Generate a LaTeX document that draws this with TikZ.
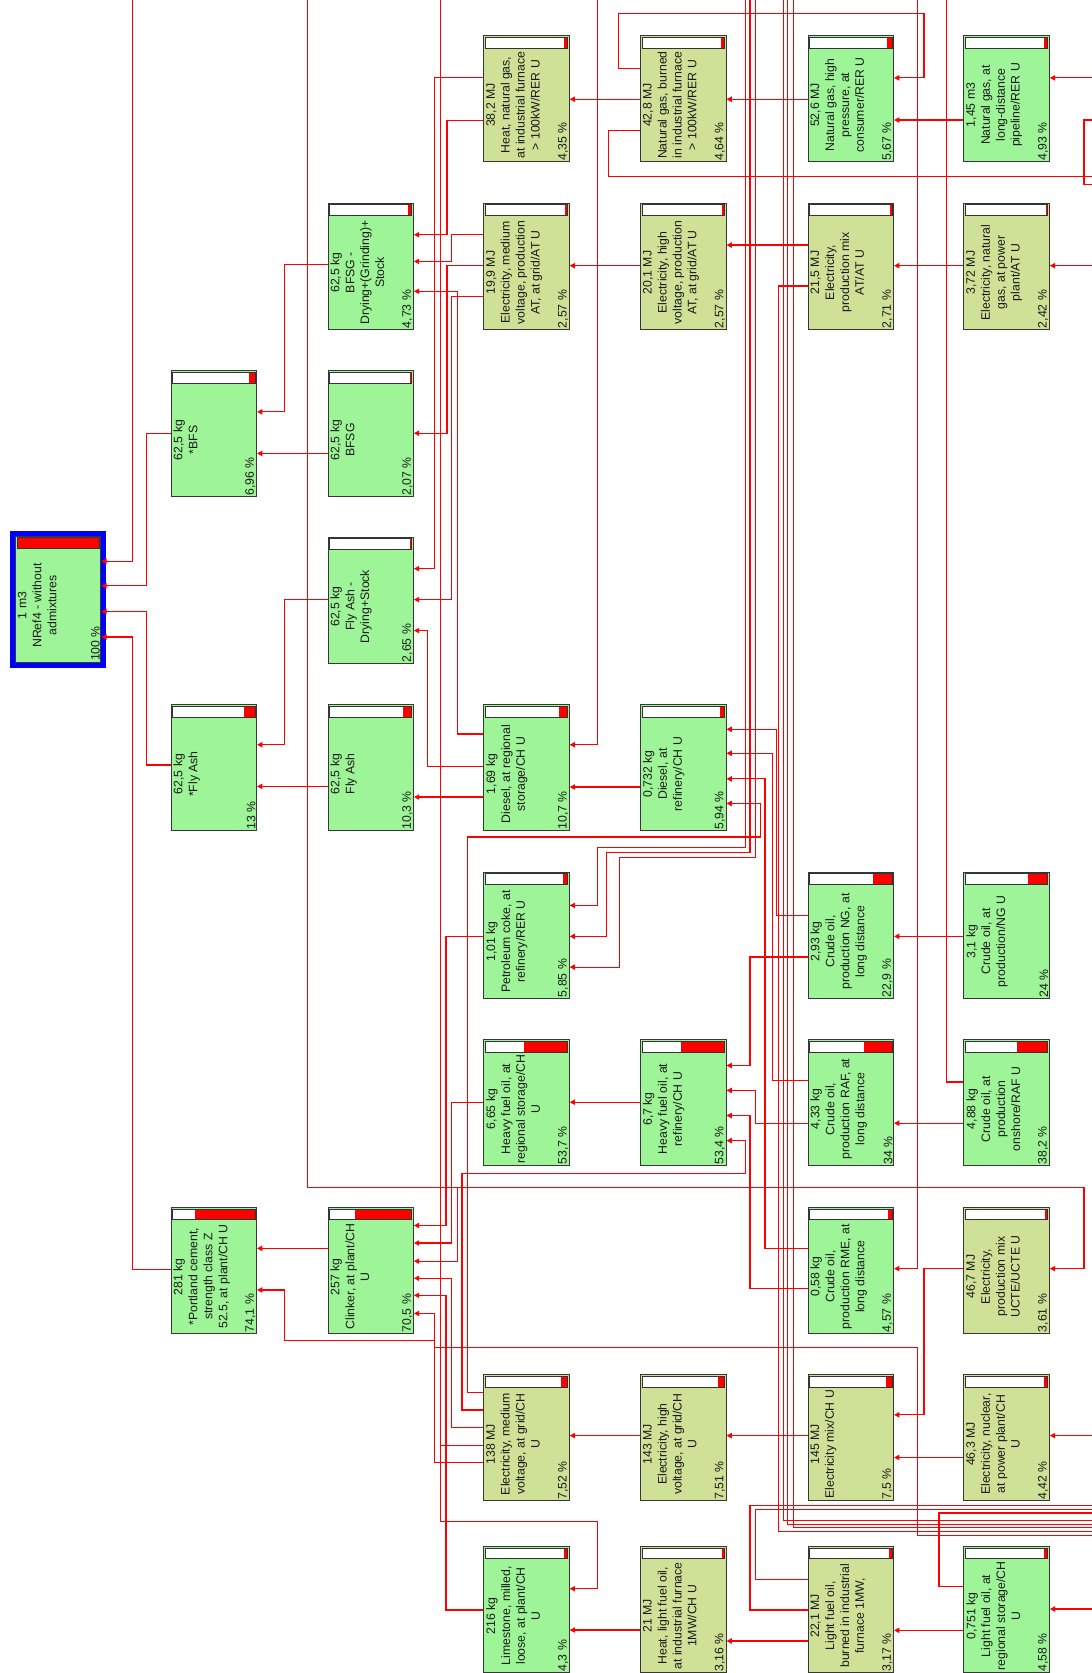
\documentclass[tikz,border=0pt]{standalone}
\usepackage{fontspec}
\setmainfont{Liberation Sans}
\usetikzlibrary{arrows.meta, calc}

\definecolor{matgreen}{RGB}{158,245,152}
\definecolor{nrgolive}{RGB}{207,225,150}
\definecolor{flowred}{RGB}{255,0,0}
\definecolor{boxline}{RGB}{55,55,55}
\definecolor{rootblue}{RGB}{0,0,255}

\newcommand{\boxfont}{\fontsize{11.5}{14}\selectfont}
% process box: name, x, y (from top), style, share, label, share text
\newcommand{\pbox}[7]{%
  \node[#4] (#1) at (#2,-#3) {};
  \fill[white] ($(#1.north west)+(2,-2)$) rectangle ($(#1.north east)+(-2,-12)$);
  \fill[flowred] ($(#1.north east)+(-2,-2)$) rectangle ++({-max(1.5,0.76*#5)},-10);
  \draw[bar] ($(#1.north west)+(2,-2)$) rectangle ($(#1.north east)+(-2,-12)$);
  \node[boxtext] at ($(#1.west)+(1.5,-6)$) {#6};
  \node[pcttext] at (#1.south east) {#7};
}

\begin{document}
\begin{tikzpicture}[x=1pt, y=1pt,
    procbox/.style={draw=boxline, line width=0.9pt, anchor=north west,
      inner sep=0pt, minimum width=80pt, minimum height=118pt},
    matbox/.style={procbox, fill=matgreen},
    nrgbox/.style={procbox, fill=nrgolive},
    boxtext/.style={rotate=90, anchor=north, align=center, font=\boxfont,
      inner sep=1pt, text=black!90},
    pcttext/.style={rotate=90, anchor=south west, font=\boxfont,
      inner sep=1.2pt, text=black!90},
    bar/.style={draw=black!80, line width=0.7pt},
    rootframe/.style={draw=rootblue, line width=4.7pt},
    flow/.style={draw=flowred, line width=1.1pt, -{Triangle[length=5pt, width=5pt]}},
    link/.style={draw=flowred, line width=1.1pt},
]
\fill[white] (0,0) rectangle (1023,-1568);
\useasboundingbox (0,0) rectangle (1023,-1568);

% boxes, column by column
\pbox{nref}{14}{502}{matbox}{100}{1 m3\\NRef4 - without\\admixtures}{100 \%}
\draw[rootframe] ($(nref.north west)+(-2.4,2.4)$) rectangle ($(nref.south east)+(2.4,-2.4)$);

\pbox{sbfs}{160}{347}{matbox}{6.96}{62,5 kg\\*BFS}{6,96 \%}
\pbox{sflyash}{160}{660}{matbox}{13}{62,5 kg\\*Fly Ash}{13 \%}
\pbox{sportland}{160}{1131}{matbox}{74.1}{281 kg\\*Portland cement,\\strength class Z\\52.5, at plant/CH U}{74,1 \%}

\pbox{bfsgdry}{307}{190}{matbox}{4.73}{62,5 kg\\BFSG -\\Drying+(Grinding)+\\Stock}{4,73 \%}
\pbox{bfsg}{307}{347}{matbox}{2.07}{62,5 kg\\BFSG}{2,07 \%}
\pbox{flydry}{307}{503}{matbox}{2.65}{62,5 kg\\Fly Ash -\\Drying+Stock}{2,65 \%}
\pbox{flyash}{307}{660}{matbox}{10.3}{62,5 kg\\Fly Ash}{10,3 \%}
\pbox{clinker}{307}{1131}{matbox}{70.5}{257 kg\\Clinker, at plant/CH\\U}{70,5 \%}

\pbox{heatng}{453}{33}{nrgbox}{4.35}{38,2 MJ\\Heat, natural gas,\\at industrial furnace\\> 100kW/RER U}{4,35 \%}
\pbox{elmvat}{453}{190}{nrgbox}{2.57}{19,9 MJ\\Electricity, medium\\voltage, production\\AT, at grid/AT U}{2,57 \%}
\pbox{dieselreg}{453}{660}{matbox}{10.7}{1,69 kg\\Diesel, at regional\\storage/CH U}{10,7 \%}
\pbox{petcoke}{453}{817}{matbox}{5.85}{1,01 kg\\Petroleum coke, at\\refinery/RER U}{5,85 \%}
\pbox{hforeg}{453}{974}{matbox}{53.7}{6,65 kg\\Heavy fuel oil, at\\regional storage/CH\\U}{53,7 \%}
\pbox{elmvch}{453}{1288}{nrgbox}{7.52}{138 MJ\\Electricity, medium\\voltage, at grid/CH\\U}{7,52 \%}
\pbox{limestone}{453}{1449}{matbox}{4.3}{216 kg\\Limestone, milled,\\loose, at plant/CH\\U}{4,3 \%}

\pbox{ngburn}{600}{33}{nrgbox}{4.64}{42,8 MJ\\Natural gas, burned\\in industrial furnace\\> 100kW/RER U}{4,64 \%}
\pbox{elhvat}{600}{190}{nrgbox}{2.57}{20,1 MJ\\Electricity, high\\voltage, production\\AT, at grid/AT U}{2,57 \%}
\pbox{dieselref}{600}{660}{matbox}{5.94}{0,732 kg\\Diesel, at\\refinery/CH U}{5,94 \%}
\pbox{hforef}{600}{974}{matbox}{53.4}{6,7 kg\\Heavy fuel oil, at\\refinery/CH U}{53,4 \%}
\pbox{elhvch}{600}{1288}{nrgbox}{7.51}{143 MJ\\Electricity, high\\voltage, at grid/CH\\U}{7,51 \%}
\pbox{heatlfo}{600}{1449}{nrgbox}{3.16}{21 MJ\\Heat, light fuel oil,\\at industrial furnace\\1MW/CH U}{3,16 \%}

\pbox{nghp}{757}{33}{matbox}{5.67}{52,6 MJ\\Natural gas, high\\pressure, at\\consumer/RER U}{5,67 \%}
\pbox{elmixat}{757}{190}{nrgbox}{2.71}{21,5 MJ\\Electricity,\\production mix\\AT/AT U}{2,71 \%}
\pbox{crudeng}{757}{817}{matbox}{22.9}{2,93 kg\\Crude oil,\\production NG, at\\long distance}{22,9 \%}
\pbox{cruderaf}{757}{974}{matbox}{34}{4,33 kg\\Crude oil,\\production RAF, at\\long distance}{34 \%}
\pbox{crudeme}{757}{1131}{matbox}{4.57}{0,58 kg\\Crude oil,\\production RME, at\\long distance}{4,57 \%}
\pbox{elmixch}{757}{1288}{nrgbox}{7.5}{145 MJ\\Electricity mix/CH U}{7,5 \%}
\pbox{lfoburn}{757}{1449}{nrgbox}{3.17}{22,1 MJ\\Light fuel oil,\\burned in industrial\\furnace 1MW,}{3,17 \%}

\pbox{nglong}{903}{33}{matbox}{4.93}{1,45 m3\\Natural gas, at\\long-distance\\pipeline/RER U}{4,93 \%}
\pbox{elngat}{903}{190}{nrgbox}{2.42}{3,72 MJ\\Electricity, natural\\gas, at power\\plant/AT U}{2,42 \%}
\pbox{oilng}{903}{817}{matbox}{24}{3,1 kg\\Crude oil, at\\production/NG U}{24 \%}
\pbox{oilraf}{903}{974}{matbox}{38.2}{4,88 kg\\Crude oil, at\\production\\onshore/RAF U}{38,2 \%}
\pbox{elucte}{903}{1131}{nrgbox}{3.61}{46,7 MJ\\Electricity,\\production mix\\UCTE/UCTE U}{3,61 \%}
\pbox{elnuc}{903}{1288}{nrgbox}{4.42}{46,3 MJ\\Electricity, nuclear,\\at power plant/CH\\U}{4,42 \%}
\pbox{lforeg}{903}{1449}{matbox}{4.58}{0,751 kg\\Light fuel oil, at\\regional storage/CH\\U}{4,58 \%}

% ends of lines that leave the sheet
\coordinate (topA) at (124,0);
\coordinate (topB) at (288,0);
\coordinate (topC) at (413,0);
\coordinate (topD) at (560,0);
\coordinate (topE1) at (698.5,0);
\coordinate (topE2) at (703,0);
\coordinate (topE3) at (708,0);
\coordinate (topF1) at (734,0);
\coordinate (topF2) at (738,0);
\coordinate (topF3) at (744,0);
\coordinate (topG) at (860,0);
\coordinate (topH) at (887,0);
\coordinate (rgtA) at (1023,-73);
\coordinate (rgtB) at (1023,-112.5);
\coordinate (rgtC) at (1023,-165.7);
\coordinate (rgtD) at (1023,-173);
\coordinate (rgtE) at (1023,-249);
\coordinate (rgtN) at (1023,-1345.5);
\coordinate (rgtP) at (1023,-1508);
\coordinate (jct) at (429,-1113);

% into the product
\draw[flow] (topA) |- (nref.east |- 0,-526);
\draw[flow] (sbfs.west |- 0,-406) -| (137,-549) -- (nref.east |- 0,-549);
\draw[flow] (sflyash.west |- 0,-717) -| (137,-573) -- (nref.east |- 0,-573);
\draw[flow] (sportland.west |- 0,-1190) -| (124,-597) -- (nref.east |- 0,-597);

% binders
\draw[flow] (bfsgdry.west |- 0,-248) -| (267,-386) -- (sbfs.east |- 0,-386);
\draw[flow] (bfsg.west |- 0,-425) -- (sbfs.east |- 0,-425);
\draw[flow] (flydry.west |- 0,-562) -| (267,-698) -- (sflyash.east |- 0,-698);
\draw[flow] (flyash.west |- 0,-737) -- (sflyash.east |- 0,-737);
\draw[flow] (clinker.west |- 0,-1170) -- (sportland.east |- 0,-1170);
\draw[flow] (elmvch.west |- 0,-1371) -| (407,-1256) -| (267,-1209) -- (sportland.east |- 0,-1209);

% drying steps
\draw[flow] (heatng.west |- 0,-73) -| (407,-533) -- (flydry.east |- 0,-533);
\draw[flow] (heatng.west |- 0,-113) -| (419,-220) -- (bfsgdry.east |- 0,-220);
\draw[flow] (elmvat.west |- 0,-220) -| (423.5,-245) -- (bfsgdry.east |- 0,-245);
\draw[flow] (elmvat.west |- 0,-249) -| (419,-406) -- (bfsg.east |- 0,-406);
\draw[flow] (elmvat.west |- 0,-278) -| (423.5,-562) -- (flydry.east |- 0,-562);
\draw[flow] (dieselreg.west |- 0,-688) -| (428.8,-273) -- (bfsgdry.east |- 0,-273);
\draw[flow] (dieselreg.west |- 0,-718) -| (401,-591) -- (flydry.east |- 0,-591);
\draw[flow] (dieselreg.west |- 0,-747) -- (flyash.east |- 0,-747);

% clinker kiln
\draw[flow] (petcoke.west |- 0,-877.6) -| (418,-1148.6) -- (clinker.east |- 0,-1148.6);
\draw[flow] (hforeg.west |- 0,-1033) -| (423.5,-1165) -- (clinker.east |- 0,-1165);
\draw[flow] (topB) |- (jct) |- (clinker.east |- 0,-1182);
\draw[flow] (elmvch.west |- 0,-1338) -| (423.5,-1198) -- (clinker.east |- 0,-1198);
\draw[flow] (limestone.west |- 0,-1509) -| (418,-1214) -- (clinker.east |- 0,-1214);
\draw[flow] (1023,-1439) -| (860,-1262.7) -| (407,-1231) -- (clinker.east |- 0,-1231);

% swiss medium voltage
\draw[link] (elmvch.west |- 0,-1355) -| (topC);
\draw[flow] (elmvch.west |- 0,-1355) -| (413,-1426) -| (560,-1489) -- (limestone.east |- 0,-1489);
\draw[flow] (elmvch.west |- 0,-1305) -| (438,-784.5) -| (712.6,-753) -- (dieselref.east |- 0,-753);
\draw[flow] (elmvch.west |- 0,-1321.5) -| (433,-1100) -| (698.6,-1069) -- (hforef.east |- 0,-1069);

% third column suppliers
\draw[flow] (ngburn.west |- 0,-93) -- (heatng.east |- 0,-93);
\draw[flow] (elhvat.west |- 0,-249) -- (elmvat.east |- 0,-249);
\draw[flow] (topD) |- (dieselreg.east |- 0,-698);
\draw[flow] (dieselref.west |- 0,-737.6) -- (dieselreg.east |- 0,-737.6);
\draw[flow] (topE1) |- (560,-794.5) |- (petcoke.east |- 0,-848.6);
\draw[flow] (topE2) |- (568.8,-799) |- (petcoke.east |- 0,-877.6);
\draw[flow] (topE3) |- (580.7,-803.3) |- (petcoke.east |- 0,-906.4);
\draw[flow] (hforef.west |- 0,-1033) -- (hforeg.east |- 0,-1033);
\draw[flow] (elhvch.west |- 0,-1345.5) -- (elmvch.east |- 0,-1345.5);
\draw[flow] (heatlfo.west |- 0,-1527.7) -- (limestone.east |- 0,-1527.7);

% refinery and gas
\draw[flow] (ngburn.west |- 0,-64) -| (580,-12.5) -| (866,-73) -- (nghp.east |- 0,-73);
\draw[link] (ngburn.west |- 0,-122) -| (570,-165.7) -- (rgtC);
\draw[link] (rgtB) -- (1016,-112.5) -- (1016,-173) -- (rgtD);
\draw[flow] (nghp.west |- 0,-93) -- (ngburn.east |- 0,-93);
\draw[flow] (elmixat.west |- 0,-229.7) -- (elhvat.east |- 0,-229.7);
\draw[link] (elmixat.west |- 0,-268) -| (730,-1435.5) -- (1023,-1435.5);
\draw[flow] (crudeng.west |- 0,-858) -| (728,-683.5) -- (dieselref.east |- 0,-683.5);
\draw[flow] (cruderaf.west |- 0,-1013) -| (724,-706) -- (dieselref.east |- 0,-706);
\draw[flow] (crudeme.west |- 0,-1170.5) -| (717,-730) -- (dieselref.east |- 0,-730);
\draw[flow] (crudeng.west |- 0,-897) -| (703,-998.6) -- (hforef.east |- 0,-998.6);
\draw[flow] (cruderaf.west |- 0,-1052.7) -| (708,-1022) -- (hforef.east |- 0,-1022);
\draw[flow] (crudeme.west |- 0,-1208) -| (703,-1045.5) -- (hforef.east |- 0,-1045.5);
\draw[flow] (elmixch.west |- 0,-1345.5) -- (elhvch.east |- 0,-1345.5);
\draw[flow] (lfoburn.west |- 0,-1538) -- (heatlfo.east |- 0,-1538);
\draw[link] (lfoburn.west |- 0,-1480) -| (708,-1414.5) -- (1023,-1414.5);
\draw[link] (lfoburn.west |- 0,-1509) -| (703,-1411) -- (1023,-1411);
\draw[link] (topF1) |- (1023,-1425);
\draw[link] (topF2) |- (1023,-1428.5);
\draw[link] (topF3) |- (1023,-1432);

% last column
\draw[flow] (nglong.west |- 0,-112.5) -- (nghp.east |- 0,-112.5);
\draw[flow] (elngat.west |- 0,-249) -- (elmixat.east |- 0,-249);
\draw[flow] (oilng.west |- 0,-877.6) -- (crudeng.east |- 0,-877.6);
\draw[flow] (oilraf.west |- 0,-1052.7) -- (cruderaf.east |- 0,-1052.7);
\draw[link] (oilraf.west |- 0,-1014) -| (topH);
\draw[flow] (topG) |- (crudeme.east |- 0,-1189);
\draw[flow] (elucte.west |- 0,-1189) -| (866,-1326) -- (elmixch.east |- 0,-1326);
\draw[flow] (elnuc.west |- 0,-1366) -- (elmixch.east |- 0,-1366);
\draw[flow] (lforeg.west |- 0,-1528) -- (lfoburn.east |- 0,-1528);
\draw[link] (lforeg.west |- 0,-1487) -| (880,-1418) -- (1023,-1418);
\draw[flow] (jct) -| (1016,-1189) -- (elucte.east |- 0,-1189);

% inputs from outside the sheet
\draw[flow] (rgtA) -- (nglong.east |- 0,-73);
\draw[flow] (rgtE) -- (elngat.east |- 0,-249);
\draw[flow] (rgtN) -- (elnuc.east |- 0,-1345.5);
\draw[flow] (rgtP) -- (lforeg.east |- 0,-1508);

\end{tikzpicture}
\end{document}
